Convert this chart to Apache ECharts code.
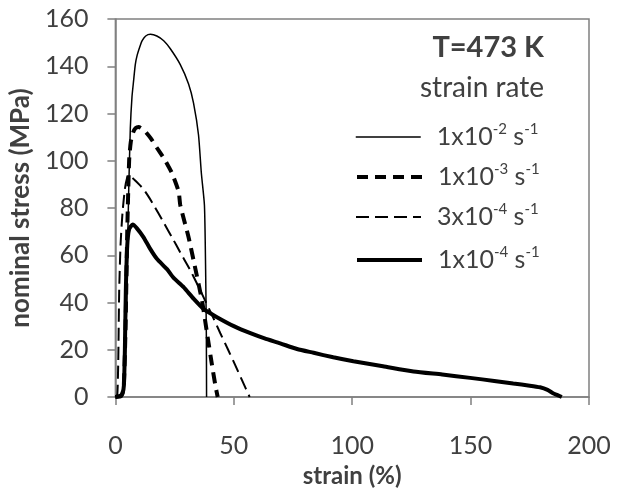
<!DOCTYPE html>
<html>
<head>
<meta charset="utf-8">
<script src="https://cdn.jsdelivr.net/npm/echarts@6/dist/echarts.min.js"></script>
<style>
html,body{margin:0;padding:0;background:#fff;}
#chart{width:625px;height:493px;}
</style>
</head>
<body>
<div id="chart"></div>
<script>
// ---- data ----
const seriesNames = ['1x10-2 s-1', '1x10-3 s-1', '3x10-4 s-1', '1x10-4 s-1'];
const legendRich = ['1x10{sup|-2} s{sup|-1}', '1x10{sup|-3} s{sup|-1}', '3x10{sup|-4} s{sup|-1}', '1x10{sup|-4} s{sup|-1}'];

const strain_1e2 = [0, 2.5, 3.5, 4.3, 5, 5.6, 6.3, 7.0, 7.7, 8.4, 9.2, 10.5, 11.3, 12.8, 14.8, 17.5, 20.4, 23.2, 27.4, 30.9, 33, 35.1, 36.3, 37.6, 38.1, 38.4, 38.5];
const stress_1e2 = [0, 0.3, 3, 20, 55, 86.6, 113.7, 127, 134, 140.7, 144.7, 148.8, 150.8, 152.8, 153.5, 152.8, 150.8, 147.4, 140.7, 132.5, 124.4, 110.9, 94.7, 81.2, 54, 27, 0];

const strain_1e3 = [0, 2.5, 3.5, 4.3, 5, 5.8, 6.5, 7.5, 8.5, 9.8, 12, 14.8, 17.5, 21.1, 23.9, 26.7, 27.4, 30.9, 33.8, 36.6, 38.7, 40.8, 42.2, 43.2];
const stress_1e3 = [0, 0.5, 4, 30, 70, 100, 108, 112, 113.8, 114.3, 113, 109.7, 105.5, 100, 94.7, 87, 81.2, 67.6, 54.1, 40.6, 27, 13.5, 5, 0];

const strain_3e4 = [0, 0.8, 1.2, 1.6, 2.2, 3, 4, 5, 5.6, 8, 10, 11.9, 14, 16.2, 20, 23.9, 27.5, 31.4, 34.7, 38, 41.2, 44.3, 47.5, 50.6, 53.6, 56.7];
const stress_3e4 = [0, 1, 15, 45, 65, 78, 88, 93, 93.9, 92, 90, 87.9, 84.8, 81.2, 74.5, 67.6, 61, 54.1, 47.5, 40.6, 33.8, 27, 20.2, 13.5, 6.8, 0];

const strain_1e4 = [0, 2, 3, 3.6, 4, 4.4, 5, 5.8, 7.3, 9, 11.9, 14.5, 17.5, 21.8, 24.5, 28.8, 33, 37.3, 42.9, 50, 57, 63, 69.6, 76.7, 83.7, 92, 100.5, 113, 125.9, 138, 149.8, 160, 168, 175, 179.3, 182.5, 184.8, 186.7, 188.5];
const stress_1e4 = [0, 0.5, 1.5, 5, 20, 45, 64, 71, 73, 71.5, 67.6, 63, 58.5, 54.1, 50.5, 46.5, 41.6, 37.2, 33.8, 30, 27, 24.8, 22.7, 20.3, 18.7, 16.8, 15.1, 13, 10.8, 9.5, 8.1, 6.8, 5.7, 4.8, 4.1, 3, 1.6, 0.8, 0];

const xTicks = { min: 0, max: 200, interval: 50 };
const yTicks = { min: 0, max: 160, interval: 20 };

// ---- chart ----
const zip = (xs, ys) => xs.map((x, i) => [x, ys[i]]);
const FONT = 'Lato';
const TXT = '#404040';
const AX = '#808080';

const lineStyles = [
  { color: '#000', width: 1.5, type: 'solid' },
  { color: '#000', width: 4, type: [11, 7] },
  { color: '#000', width: 2, type: [13, 6] },
  { color: '#000', width: 4, type: 'solid' }
];
const datas = [zip(strain_1e2, stress_1e2), zip(strain_1e3, stress_1e3), zip(strain_3e4, stress_3e4), zip(strain_1e4, stress_1e4)];
const legendCenters = [137, 177, 217, 260];

const chart = echarts.init(document.getElementById('chart'), null, { renderer: 'canvas' });
chart.setOption({
  animation: false,
  backgroundColor: '#fff',
  textStyle: { fontFamily: FONT, color: TXT },
  grid: { left: 115, right: 36, top: 19, bottom: 80, show: true, borderColor: AX, borderWidth: 1.5, containLabel: false },
  title: [
    { text: 'T=473 K', right: 81, top: 33, padding: 0, textStyle: { fontFamily: FONT, fontSize: 29, fontWeight: 'bold', color: TXT } },
    { text: 'strain rate', right: 81, top: 74, padding: 0, textStyle: { fontFamily: FONT, fontSize: 28, fontWeight: 'normal', color: TXT } }
  ],
  legend: seriesNames.map((n, i) => ({
    data: [n],
    left: 355,
    top: legendCenters[i] - 15,
    padding: 0,
    itemWidth: 65,
    itemHeight: 14,
    itemStyle: { opacity: 0 },
    lineStyle: { width: lineStyles[i].width, type: lineStyles[i].type, color: '#000' },
    formatter: () => legendRich[i],
    textStyle: {
      fontFamily: FONT, fontSize: 25, color: TXT, padding: [0, 0, 0, 11], lineHeight: 30,
      rich: { sup: { fontFamily: FONT, fontSize: 15, color: TXT, verticalAlign: 'top', lineHeight: 18 } }
    }
  })),
  xAxis: {
    type: 'value', min: xTicks.min, max: xTicks.max, interval: xTicks.interval,
    name: 'strain (%)', nameLocation: 'middle', nameGap: 67,
    nameTextStyle: { fontFamily: FONT, fontSize: 24, fontWeight: 'bold', color: TXT },
    axisLine: { show: true, lineStyle: { color: AX, width: 1.5 } },
    axisTick: { show: true, inside: false, length: 8, lineStyle: { color: AX, width: 1.5 } },
    axisLabel: { fontFamily: FONT, fontSize: 25, color: TXT, margin: 36 },
    splitLine: { show: false }
  },
  yAxis: {
    type: 'value', min: yTicks.min, max: yTicks.max, interval: yTicks.interval,
    name: 'nominal stress (MPa)', nameLocation: 'middle', nameGap: 74, nameRotate: 90,
    nameTextStyle: { fontFamily: FONT, fontSize: 26, fontWeight: 'bold', color: TXT },
    axisLine: { show: true, lineStyle: { color: AX, width: 1.5 } },
    axisTick: { show: true, inside: false, length: 8, lineStyle: { color: AX, width: 1.5 } },
    axisLabel: { fontFamily: FONT, fontSize: 25, color: TXT, margin: 27 },
    splitLine: { show: false }
  },
  series: seriesNames.map((n, i) => ({
    name: n, type: 'line', data: datas[i], showSymbol: false, symbol: 'none',
    smooth: 0.2, lineStyle: lineStyles[i], itemStyle: { color: '#000' }, z: 10 - i
  }))
});
</script>
</body>
</html>
